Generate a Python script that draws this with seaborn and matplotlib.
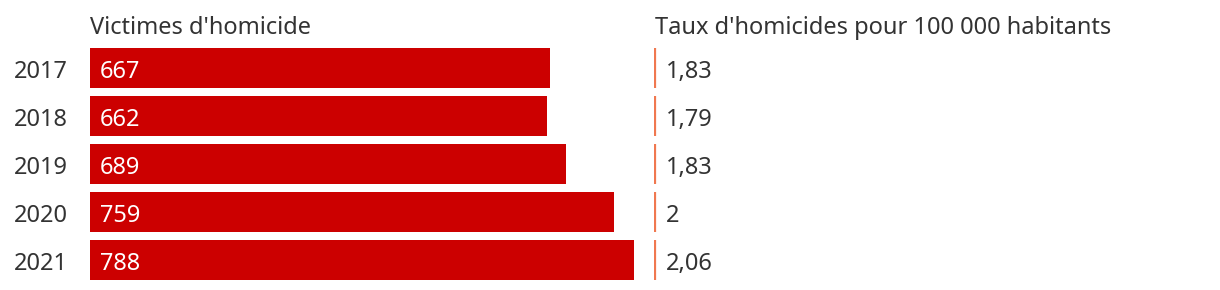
import matplotlib
matplotlib.use("Agg")
import matplotlib.pyplot as plt
import matplotlib.transforms as mtransforms
import seaborn as sns
import pandas as pd

years = ["2017", "2018", "2019", "2020", "2021"]
victims = [667, 662, 689, 759, 788]
rates = ["1,83", "1,79", "1,83", "2", "2,06"]
title_left = "Victimes d'homicide"
title_right = "Taux d'homicides pour 100 000 habitants"

sns.set_theme(style="white")
plt.rcParams['font.family'] = ['Noto Sans', 'DejaVu Sans']

W, H, DPI = 1220, 290, 100
fig = plt.figure(figsize=(W / DPI, H / DPI), dpi=DPI)
fig.patch.set_facecolor("white")

TXT = "#333333"
RED = "#CC0000"
LINE = "#F07850"
FS = 17
BASE = -10  # baseline offset in px (display coords, downward)

top_px, bot_px = 44, 284
ax_bottom = (H - bot_px) / H
ax_height = (bot_px - top_px) / H

left_x0, left_x1 = 90, 650
ax1 = fig.add_axes([left_x0 / W, ax_bottom, (left_x1 - left_x0) / W, ax_height])
df = pd.DataFrame({"year": years, "victims": victims})
sns.barplot(data=df, x="victims", y="year", orient="h", color=RED,
            saturation=1, width=40 / 48, ax=ax1, linewidth=0)
px_per_unit = 544 / 788
ax1.set_xlim(0, (left_x1 - left_x0) / px_per_unit)
ax1.set_ylim(4.5, -0.5)
for s in ax1.spines.values():
    s.set_visible(False)
ax1.set_xticks([])
ax1.set_xlabel("")
ax1.set_ylabel("")
ax1.tick_params(axis="y", length=0, pad=22 * 72 / DPI, labelsize=FS, labelcolor=TXT)
shift = mtransforms.ScaledTranslation(0, BASE / DPI, fig.dpi_scale_trans)
for lab in ax1.get_yticklabels():
    lab.set_color(TXT)
    lab.set_va("baseline")
    lab.set_transform(lab.get_transform() + shift)

off = mtransforms.offset_copy(ax1.transData, fig=fig, x=10, y=BASE, units="dots")
for i, v in enumerate(victims):
    ax1.text(0, i, str(v), transform=off, color="white", fontsize=FS,
             va="baseline", ha="left")

fig.text(left_x0 / W, 1 - 34 / H, title_left, fontsize=FS, color=TXT,
         va="baseline", ha="left")

right_x0 = 654
ax2 = fig.add_axes([right_x0 / W, ax_bottom, (W - right_x0) / W, ax_height])
ax2.set_xlim(0, W - right_x0)
ax2.set_ylim(4.5, -0.5)
ax2.axis("off")
half = 40 / 48 / 2
yy = list(range(len(years)))
ax2.vlines([1] * len(yy), [y - half for y in yy], [y + half for y in yy],
           color=LINE, linewidth=1.6)
off2 = mtransforms.offset_copy(ax2.transData, fig=fig, x=0, y=BASE, units="dots")
for i, r in enumerate(rates):
    ax2.text(12, i, r, transform=off2, fontsize=FS, color=TXT,
             va="baseline", ha="left")

fig.text(655 / W, 1 - 34 / H, title_right, fontsize=FS, color=TXT,
         va="baseline", ha="left")

fig.savefig("out.png", dpi=DPI, facecolor="white")
